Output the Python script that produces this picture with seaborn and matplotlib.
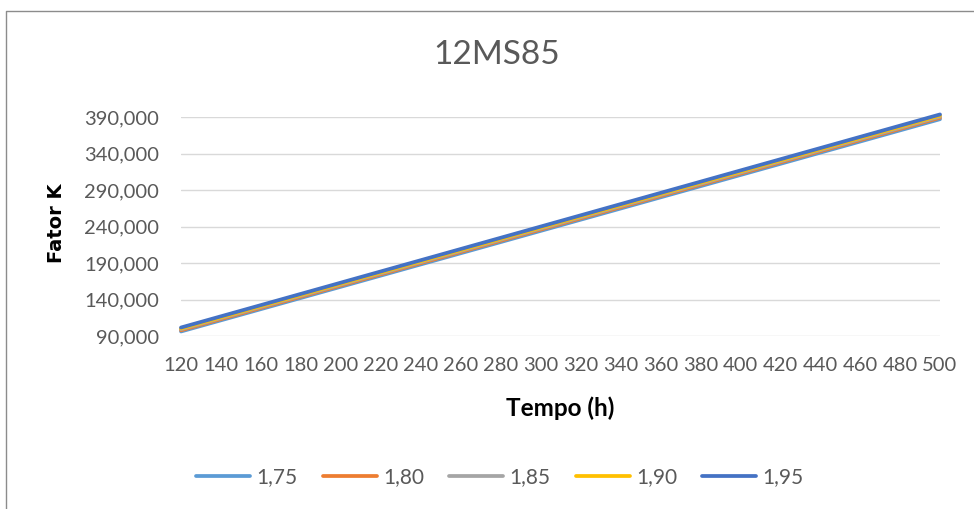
import matplotlib
matplotlib.use("Agg")
import matplotlib.pyplot as plt
import matplotlib.ticker as mticker
from matplotlib.lines import Line2D
import seaborn as sns
import pandas as pd

# ---- data ----
tempo = [120, 500]
series_names = ["1,75", "1,80", "1,85", "1,90", "1,95"]
k_175 = [96200, 387000]
k_180 = [97800, 389000]
k_185 = [99200, 390500]
k_190 = [100300, 392000]
k_195 = [101600, 393500]
x_ticks = list(range(120, 501, 20))
y_ticks = [90000, 140000, 190000, 240000, 290000, 340000, 390000]
colors = ["#5B9BD5", "#ED7D31", "#A5A5A5", "#FFC000", "#4472C4"]

rows = []
for name, vals in zip(series_names, [k_175, k_180, k_185, k_190, k_195]):
    for t, v in zip(tempo, vals):
        rows.append({"Tempo (h)": t, "Fator K": v, "serie": name})
df = pd.DataFrame(rows)

sns.set_theme(style="white")
plt.rcParams["font.family"] = ["Lato", "DejaVu Sans"]
TXT = "#595959"

W, H = 974, 509
fig = plt.figure(figsize=(W / 100, H / 100), dpi=100)
ax = fig.add_axes([181 / W, 1 - 336 / H, (940 - 181) / W, (336 - 117) / H])

sns.lineplot(data=df, x="Tempo (h)", y="Fator K", hue="serie",
             hue_order=series_names, palette=dict(zip(series_names, colors)),
             linewidth=2.7, ax=ax, legend=False, sort=False)
for ln in ax.get_lines():
    ln.set_clip_on(False)
    ln.set_solid_capstyle("round")

ax.set_xlim(120, 500)
ax.set_ylim(90000, 390000)
ax.set_xticks(x_ticks)
ax.set_yticks(y_ticks)
ax.yaxis.set_major_formatter(mticker.FuncFormatter(lambda v, p: f"{int(v):,}"))
ax.grid(axis="y", color="#D9D9D9", linewidth=1.0)
ax.grid(axis="x", visible=False)
ax.set_axisbelow(True)
for s in ax.spines.values():
    s.set_visible(False)
ax.tick_params(axis="both", length=0, labelsize=14.5, labelcolor=TXT)
ax.tick_params(axis="x", pad=15)
ax.tick_params(axis="y", pad=16)
ax.set_xlabel("")
ax.set_ylabel("")

fig.text(497 / W, 1 - 55 / H, "12MS85", ha="center", va="center",
         fontsize=24, color=TXT, fontweight="normal")
fig.text(560 / W, 1 - 408 / H, "Tempo (h)", ha="center", va="center",
         fontsize=17.5, color="black", fontweight="bold")
fig.text(56 / W, 1 - 223 / H, "Fator K", ha="center", va="center",
         rotation=90, fontsize=14, color="black", fontweight="bold",
         family=["DejaVu Sans"])

handles = [Line2D([0], [0], color=c, linewidth=2.7, solid_capstyle="round")
           for c in colors]
leg = fig.legend(handles, series_names, loc="center", ncol=5,
                 bbox_to_anchor=(500 / W, 1 - 477 / H), frameon=False,
                 fontsize=15, handlelength=2.6, handletextpad=0.3,
                 columnspacing=1.2)
for t in leg.get_texts():
    t.set_color(TXT)

# chart-area border (left and top edges visible)
fig.add_artist(Line2D([5.5 / W, 5.5 / W, 1.0], [0.0, 1 - 10.5 / H, 1 - 10.5 / H],
                      transform=fig.transFigure, color="#8C8C8C", linewidth=1.0))

fig.savefig("out.png", dpi=100, facecolor="white")
